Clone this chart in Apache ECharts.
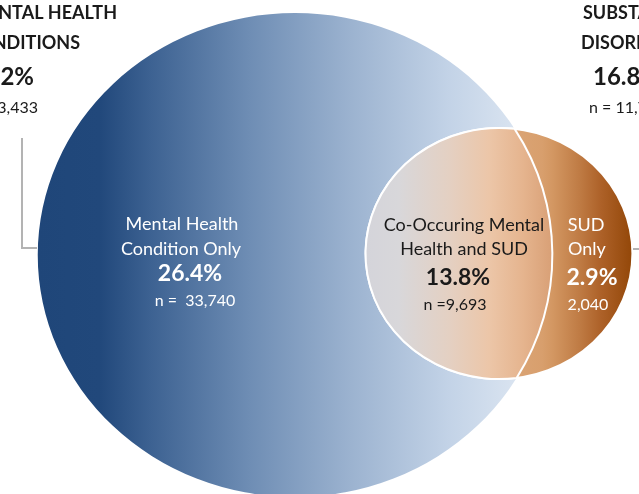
<!DOCTYPE html>
<html>
<head>
<meta charset="utf-8">
<script src="https://cdn.jsdelivr.net/npm/echarts@6/dist/echarts.min.js"></script>
<style>
html,body{margin:0;padding:0;background:#fff;}
#chart{width:639px;height:494px;}
</style>
</head>
<body>
<div id="chart"></div>
<script>
// circles of the venn, in diagram units (x axis is a bit squeezed like the picture)
const circleNames = ['Mental Health Conditions', 'Substance Use Disorders'];
const circleX = [277.5, 469.3];
const circleY = [255, 253.5];
const circleR = [242, 125.5];

// totals for each circle
const groupTitles = ['MENTAL HEALTH\nCONDITIONS', 'SUBSTANCE USE\nDISORDERS'];
const groupPct = [40.2, 16.8];
const groupN = [43433, 11733];

// the three regions
const regionLabels = ['Mental Health\nCondition Only', 'Co-Occuring Mental\nHealth and SUD', 'SUD\nOnly'];
const regionPct = [26.4, 13.8, 2.9];
const regionN = [33740, 9693, 2040];
const regionNPrefix = ['n =  ', 'n =', ''];

const FONT = 'Lato, "Open Sans", sans-serif';
const fmt = v => v.toLocaleString('en-US');

const blueFill = new echarts.graphic.LinearGradient(0, 0, 1, 0, [
  {offset: 0, color: '#1f4679'},
  {offset: 0.12, color: '#21487b'},
  {offset: 0.22, color: '#3d6292'},
  {offset: 0.41, color: '#6e8db4'},
  {offset: 0.61, color: '#9cb3d0'},
  {offset: 0.80, color: '#c3d3e7'},
  {offset: 0.94, color: '#dbe5f1'},
  {offset: 1, color: '#e3ebf5'}
]);
const orangeFill = new echarts.graphic.LinearGradient(0, 0, 1, 0, [
  {offset: 0, color: '#e8c2a2'},
  {offset: 0.66, color: '#d89f6d'},
  {offset: 0.70, color: '#d39762'},
  {offset: 0.80, color: '#bf7b44'},
  {offset: 0.88, color: '#ad6128'},
  {offset: 1, color: '#924607'}
]);
const lensFill = new echarts.graphic.LinearGradient(0, 0, 1, 0, [
  {offset: 0, color: '#d4d4da'},
  {offset: 0.18, color: '#d8d7da'},
  {offset: 0.45, color: '#e4d0c2'},
  {offset: 0.66, color: '#ecc6a8'},
  {offset: 0.84, color: '#e5b48e'},
  {offset: 1, color: '#d89f75'}
]);
const fills = [blueFill, orangeFill];

function ellipsePath(cx, cy, rx, ry) {
  return 'M' + (cx - rx) + ' ' + cy +
    ' A' + rx + ' ' + ry + ' 0 1 0 ' + (cx + rx) + ' ' + cy +
    ' A' + rx + ' ' + ry + ' 0 1 0 ' + (cx - rx) + ' ' + cy + ' Z';
}

function renderCircle(params, api) {
  const i = params.dataIndex;
  const c = api.coord([api.value(0), api.value(1)]);
  const s = api.size([api.value(2), api.value(2)]);
  const rx = Math.abs(s[0]), ry = Math.abs(s[1]);
  return {
    type: 'path',
    shape: {pathData: ellipsePath(c[0], c[1], rx, ry)},
    style: {fill: fills[i], stroke: i === 1 ? '#ffffff' : null, lineWidth: 2}
  };
}

function renderLens(params, api) {
  const x0 = circleX[0], y0 = circleY[0], R = circleR[0];
  const x1 = circleX[1], y1 = circleY[1], r = circleR[1];
  const dx = x1 - x0, dy = y1 - y0;
  const d = Math.sqrt(dx * dx + dy * dy);
  const a = (d * d + R * R - r * r) / (2 * d);
  const h = Math.sqrt(R * R - a * a);
  const bx = x0 + a * dx / d, by = y0 + a * dy / d;
  let p1 = api.coord([bx - h * dy / d, by + h * dx / d]);
  let p2 = api.coord([bx + h * dy / d, by - h * dx / d]);
  if (p1[1] > p2[1]) { const t = p1; p1 = p2; p2 = t; }
  const sb = api.size([R, R]), ss = api.size([r, r]);
  const largeSmall = a > d ? 1 : 0;
  const largeBig = a < 0 ? 1 : 0;
  const path = 'M' + p1[0] + ' ' + p1[1] +
    ' A' + Math.abs(ss[0]) + ' ' + Math.abs(ss[1]) + ' 0 ' + largeSmall + ' 0 ' + p2[0] + ' ' + p2[1] +
    ' A' + Math.abs(sb[0]) + ' ' + Math.abs(sb[1]) + ' 0 ' + largeBig + ' 0 ' + p1[0] + ' ' + p1[1] + ' Z';
  return {
    type: 'path',
    shape: {pathData: path},
    style: {fill: lensFill, stroke: '#ffffff', lineWidth: 2}
  };
}

function txt(text, x, y, align, size, weight, color) {
  return {
    type: 'text', silent: true, z: 100,
    style: {
      text: text, x: x, y: y, align: align, verticalAlign: 'middle',
      fontFamily: FONT, fontSize: size, fontWeight: weight, fill: color
    }
  };
}

const dark = '#1a1a1a';
const leftTitle = groupTitles[0].split('\n');
const rightTitle = groupTitles[1].split('\n');
const r0 = regionLabels[0].split('\n');
const r1 = regionLabels[1].split('\n');
const r2 = regionLabels[2].split('\n');

const texts = [
  // left total, cut by the page edge
  txt(leftTitle[0], 117, 13, 'right', 18, 'bold', dark),
  txt(leftTitle[1], 80, 43, 'right', 18, 'bold', dark),
  txt(groupPct[0].toFixed(1) + '%', 34, 77, 'right', 24, 'bold', dark),
  txt('n = ' + fmt(groupN[0]), 38, 108, 'right', 16, 'normal', dark),
  // right total, cut by the page edge
  txt(rightTitle[0], 583, 13, 'left', 18, 'bold', dark),
  txt(rightTitle[1], 581, 43, 'left', 18, 'bold', dark),
  txt(groupPct[1].toFixed(1) + '%', 593, 77, 'left', 24, 'bold', dark),
  txt('n = ' + fmt(groupN[1]), 589, 108, 'left', 16, 'normal', dark),
  // mental health only
  txt(r0[0], 182, 224, 'center', 18, 'normal', '#ffffff'),
  txt(r0[1], 181, 249, 'center', 18, 'normal', '#ffffff'),
  txt(regionPct[0].toFixed(1) + '%', 190, 274, 'center', 23, 'bold', '#ffffff'),
  txt(regionNPrefix[0] + fmt(regionN[0]), 195, 301, 'center', 16, 'normal', '#ffffff'),
  // overlap
  txt(r1[0], 464, 225, 'center', 18, 'normal', dark),
  txt(r1[1], 464, 249, 'center', 18, 'normal', dark),
  txt(regionPct[1].toFixed(1) + '%', 458, 278, 'center', 23, 'bold', dark),
  txt(regionNPrefix[1] + fmt(regionN[1]), 455, 305, 'center', 16, 'normal', dark),
  // sud only
  txt(r2[0], 586, 225, 'center', 18, 'normal', '#ffffff'),
  txt(r2[1], 587, 249, 'center', 18, 'normal', '#ffffff'),
  txt(regionPct[2].toFixed(1) + '%', 592, 278, 'center', 23, 'bold', '#ffffff'),
  txt(regionNPrefix[2] + fmt(regionN[2]), 588, 305, 'center', 16, 'normal', '#ffffff'),
  // connectors
  {type: 'polyline', silent: true, z: 50, shape: {points: [[22, 138], [22, 248], [37, 248]]},
    style: {stroke: '#b3b3b3', lineWidth: 2, fill: null}},
  {type: 'line', silent: true, z: 50, shape: {x1: 633, y1: 249, x2: 645, y2: 249},
    style: {stroke: '#b3b3b3', lineWidth: 2}}
];

const chart = echarts.init(document.getElementById('chart'));
chart.setOption({
  animation: false,
  grid: {left: 0, right: 0, top: 0, bottom: 0},
  xAxis: {type: 'value', min: 0, max: 601, show: false},
  yAxis: {type: 'value', min: 0, max: 494, inverse: true, show: false},
  graphic: {elements: texts},
  series: [
    {
      type: 'custom', name: 'circles', coordinateSystem: 'cartesian2d', silent: true, clip: false,
      data: circleNames.map((n, i) => ({name: n, value: [circleX[i], circleY[i], circleR[i]]})),
      encode: {x: 0, y: 1},
      renderItem: renderCircle
    },
    {
      type: 'custom', name: 'overlap', coordinateSystem: 'cartesian2d', silent: true, clip: false,
      data: [[circleX[1], circleY[1]]],
      encode: {x: 0, y: 1},
      renderItem: renderLens
    }
  ]
});
</script>
</body>
</html>
